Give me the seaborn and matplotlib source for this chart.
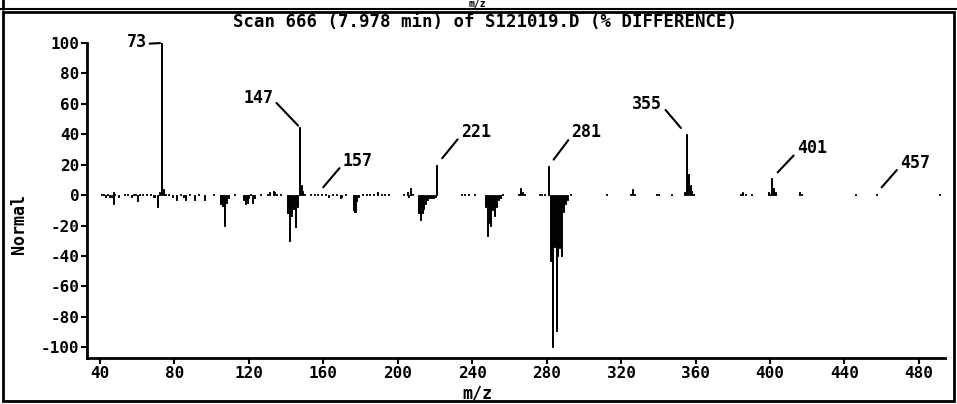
import matplotlib
matplotlib.use("Agg")
import matplotlib.pyplot as plt
from matplotlib.patches import Rectangle
from matplotlib.lines import Line2D
import seaborn as sns

# ---------------- data ----------------
pos_mz = [41, 42, 44, 47, 48, 53, 55, 58, 59, 61, 63, 65, 67, 72, 73, 74, 75, 77,
          83, 88, 93, 101, 112, 121, 126, 130, 131, 133, 134, 135, 137,
          147, 148, 149, 150, 153, 155, 157, 159, 161, 165, 167, 172,
          181, 183, 185, 187, 189, 191, 193, 195, 203, 205, 207, 208,
          221, 234, 236, 238, 241, 256, 265, 266, 267, 268, 276, 277, 279,
          281, 293, 312, 325, 326, 327, 339, 340, 347, 354, 355, 356, 357,
          358, 359, 384, 385, 387, 390, 399, 400, 401, 402, 403, 416, 417,
          446, 457, 491]
pos_int = [1, 1, 1, 2, 1, 1, 1, 1, 1, 1, 1, 1, 1, 2, 100, 4, 1, 1,
           1, 1, 1, 1, 1, 1, 1, 1, 2, 3, 2, 1, 1,
           45, 7, 3, 1, 1, 1, 1, 1, 1, 1, 1, 1,
           1, 1, 1, 1, 2, 1, 1, 1, 1, 2, 5, 1,
           20, 1, 1, 1, 1, 1, 1, 5, 2, 1, 1, 1, 1,
           19, 1, 1, 1, 4, 1, 1, 1, 1, 2, 40, 14, 7,
           3, 1, 1, 2, 1, 1, 2, 1, 11, 5, 2, 2, 1,
           1, 1, 1]

neg_mz = [43, 45, 46, 47, 50, 57, 60, 69, 71, 79, 81, 85, 86, 91, 96,
          105, 106, 107, 108, 109, 117, 118, 119, 120, 122, 123,
          141, 142, 143, 144, 145, 146, 163, 169, 170, 176, 177, 178, 179,
          206, 211, 212, 213, 214, 215, 216, 217, 218, 219, 220,
          247, 248, 249, 250, 251, 252, 253, 254, 255,
          282, 283, 284, 285, 286, 287, 288, 289, 290, 291]
neg_int = [-1, -1, -1, -6, -1, -1, -4, -1, -8, -1, -3, -1, -3, -3, -3,
           -6, -7, -20, -5, -2, -3, -6, -5, -2, -5, -2,
           -12, -30, -14, -9, -21, -8, -1, -2, -1, -10, -11, -4, -1,
           -1, -12, -16, -12, -9, -6, -3, -2, -2, -2, -1,
           -8, -27, -18, -20, -10, -14, -8, -3, -2,
           -43, -100, -34, -89, -40, -35, -40, -11, -6, -3]

label_mz = [73, 147, 157, 221, 281, 355, 401, 457]
label_val = [100, 45, 1, 20, 19, 40, 11, 1]
label_off = [(-15, 1), (-26, 29), (25, 33), (24, 33), (23, 34), (-24, 30), (25, 30), (24, 31)]

x_ticks = [40, 80, 120, 160, 200, 240, 280, 320, 360, 400, 440, 480]
y_ticks = [-100, -80, -60, -40, -20, 0, 20, 40, 60, 80, 100]

title = "Scan 666 (7.978 min) of S121019.D (% DIFFERENCE)"

# ---------------- style ----------------
sns.set_style("ticks")
plt.rcParams["font.family"] = ["DejaVu Sans Mono", "DejaVu Sans"]
plt.rcParams["axes.unicode_minus"] = False
plt.rcParams["text.color"] = "black"
plt.rcParams["axes.labelcolor"] = "black"

fig = plt.figure(figsize=(9.57, 4.04), dpi=100)
W, H = 957, 404
ax = fig.add_axes([87 / W, 46 / H, (945 - 87) / W, (358 - 43) / H])

sns.barplot(x=pos_mz, y=pos_int, native_scale=True, color="black", width=0.55,
            edgecolor="black", linewidth=0.7, errorbar=None, ax=ax, saturation=1)
sns.barplot(x=neg_mz, y=neg_int, native_scale=True, color="black", width=0.55,
            edgecolor="black", linewidth=0.7, errorbar=None, ax=ax, saturation=1)

ax.set_xlim(33, 494)
ax.set_ylim(-107, 100)
ax.set_xticks(x_ticks)
ax.set_xticklabels([str(v) for v in x_ticks])
ax.set_yticks(y_ticks)
ax.set_yticklabels([str(v) for v in y_ticks])
ax.tick_params(axis="both", labelsize=11.5, length=4, width=1.5, color="black",
               labelcolor="black", pad=1.5)
for lab in ax.get_xticklabels() + ax.get_yticklabels():
    lab.set_fontweight("bold")

sns.despine(ax=ax, top=True, right=True)
ax.spines["left"].set_linewidth(2.0)
ax.spines["bottom"].set_linewidth(2.0)
ax.spines["left"].set_color("black")
ax.spines["bottom"].set_color("black")

ax.set_xlabel("m/z", fontsize=12, fontweight="bold", va="center")
ax.set_ylabel("Normal", fontsize=12, fontweight="bold", va="center")
ax.xaxis.set_label_coords((477 - 87) / 858, (358 - 393) / 315)
ax.yaxis.set_label_coords((19 - 87) / 858, (358 - 224) / 315)

# peak labels
for mz, v, (dx, dy) in zip(label_mz, label_val, label_off):
    ha = "right" if dx < 0 else "left"
    rel = (1.0, 0.4) if dx < 0 else (0.0, 0.3)
    shrink = 1 if mz in (73, 147) else 6
    ax.annotate(str(mz), xy=(mz, v), xytext=(dx * 0.72, dy * 0.72),
                textcoords="offset points", ha=ha, va="center",
                fontsize=12, fontweight="bold", annotation_clip=False,
                arrowprops=dict(arrowstyle="-", lw=1.5, color="black",
                                relpos=rel, shrinkA=0, shrinkB=shrink))

# title and frame
fig.text(485 / W, 1 - 22 / H, title, ha="center", va="center",
         fontsize=12.5, fontweight="bold")
fig.text(477 / W, 1 - 4 / H, "m/z", ha="center", va="center",
         fontsize=7, fontweight="bold")
fig.add_artist(Rectangle((3 / W, 3 / H), (954 - 3) / W, (401 - 12) / H,
                         transform=fig.transFigure, fill=False, lw=2, ec="black"))
fig.add_artist(Line2D([0, 1], [1 - 9 / H, 1 - 9 / H], transform=fig.transFigure,
                      lw=1.5, color="black"))
fig.add_artist(Line2D([3 / W, 3 / W], [1 - 9 / H, 1], transform=fig.transFigure,
                      lw=2, color="black"))

fig.savefig("out.png", dpi=100, facecolor="white")
